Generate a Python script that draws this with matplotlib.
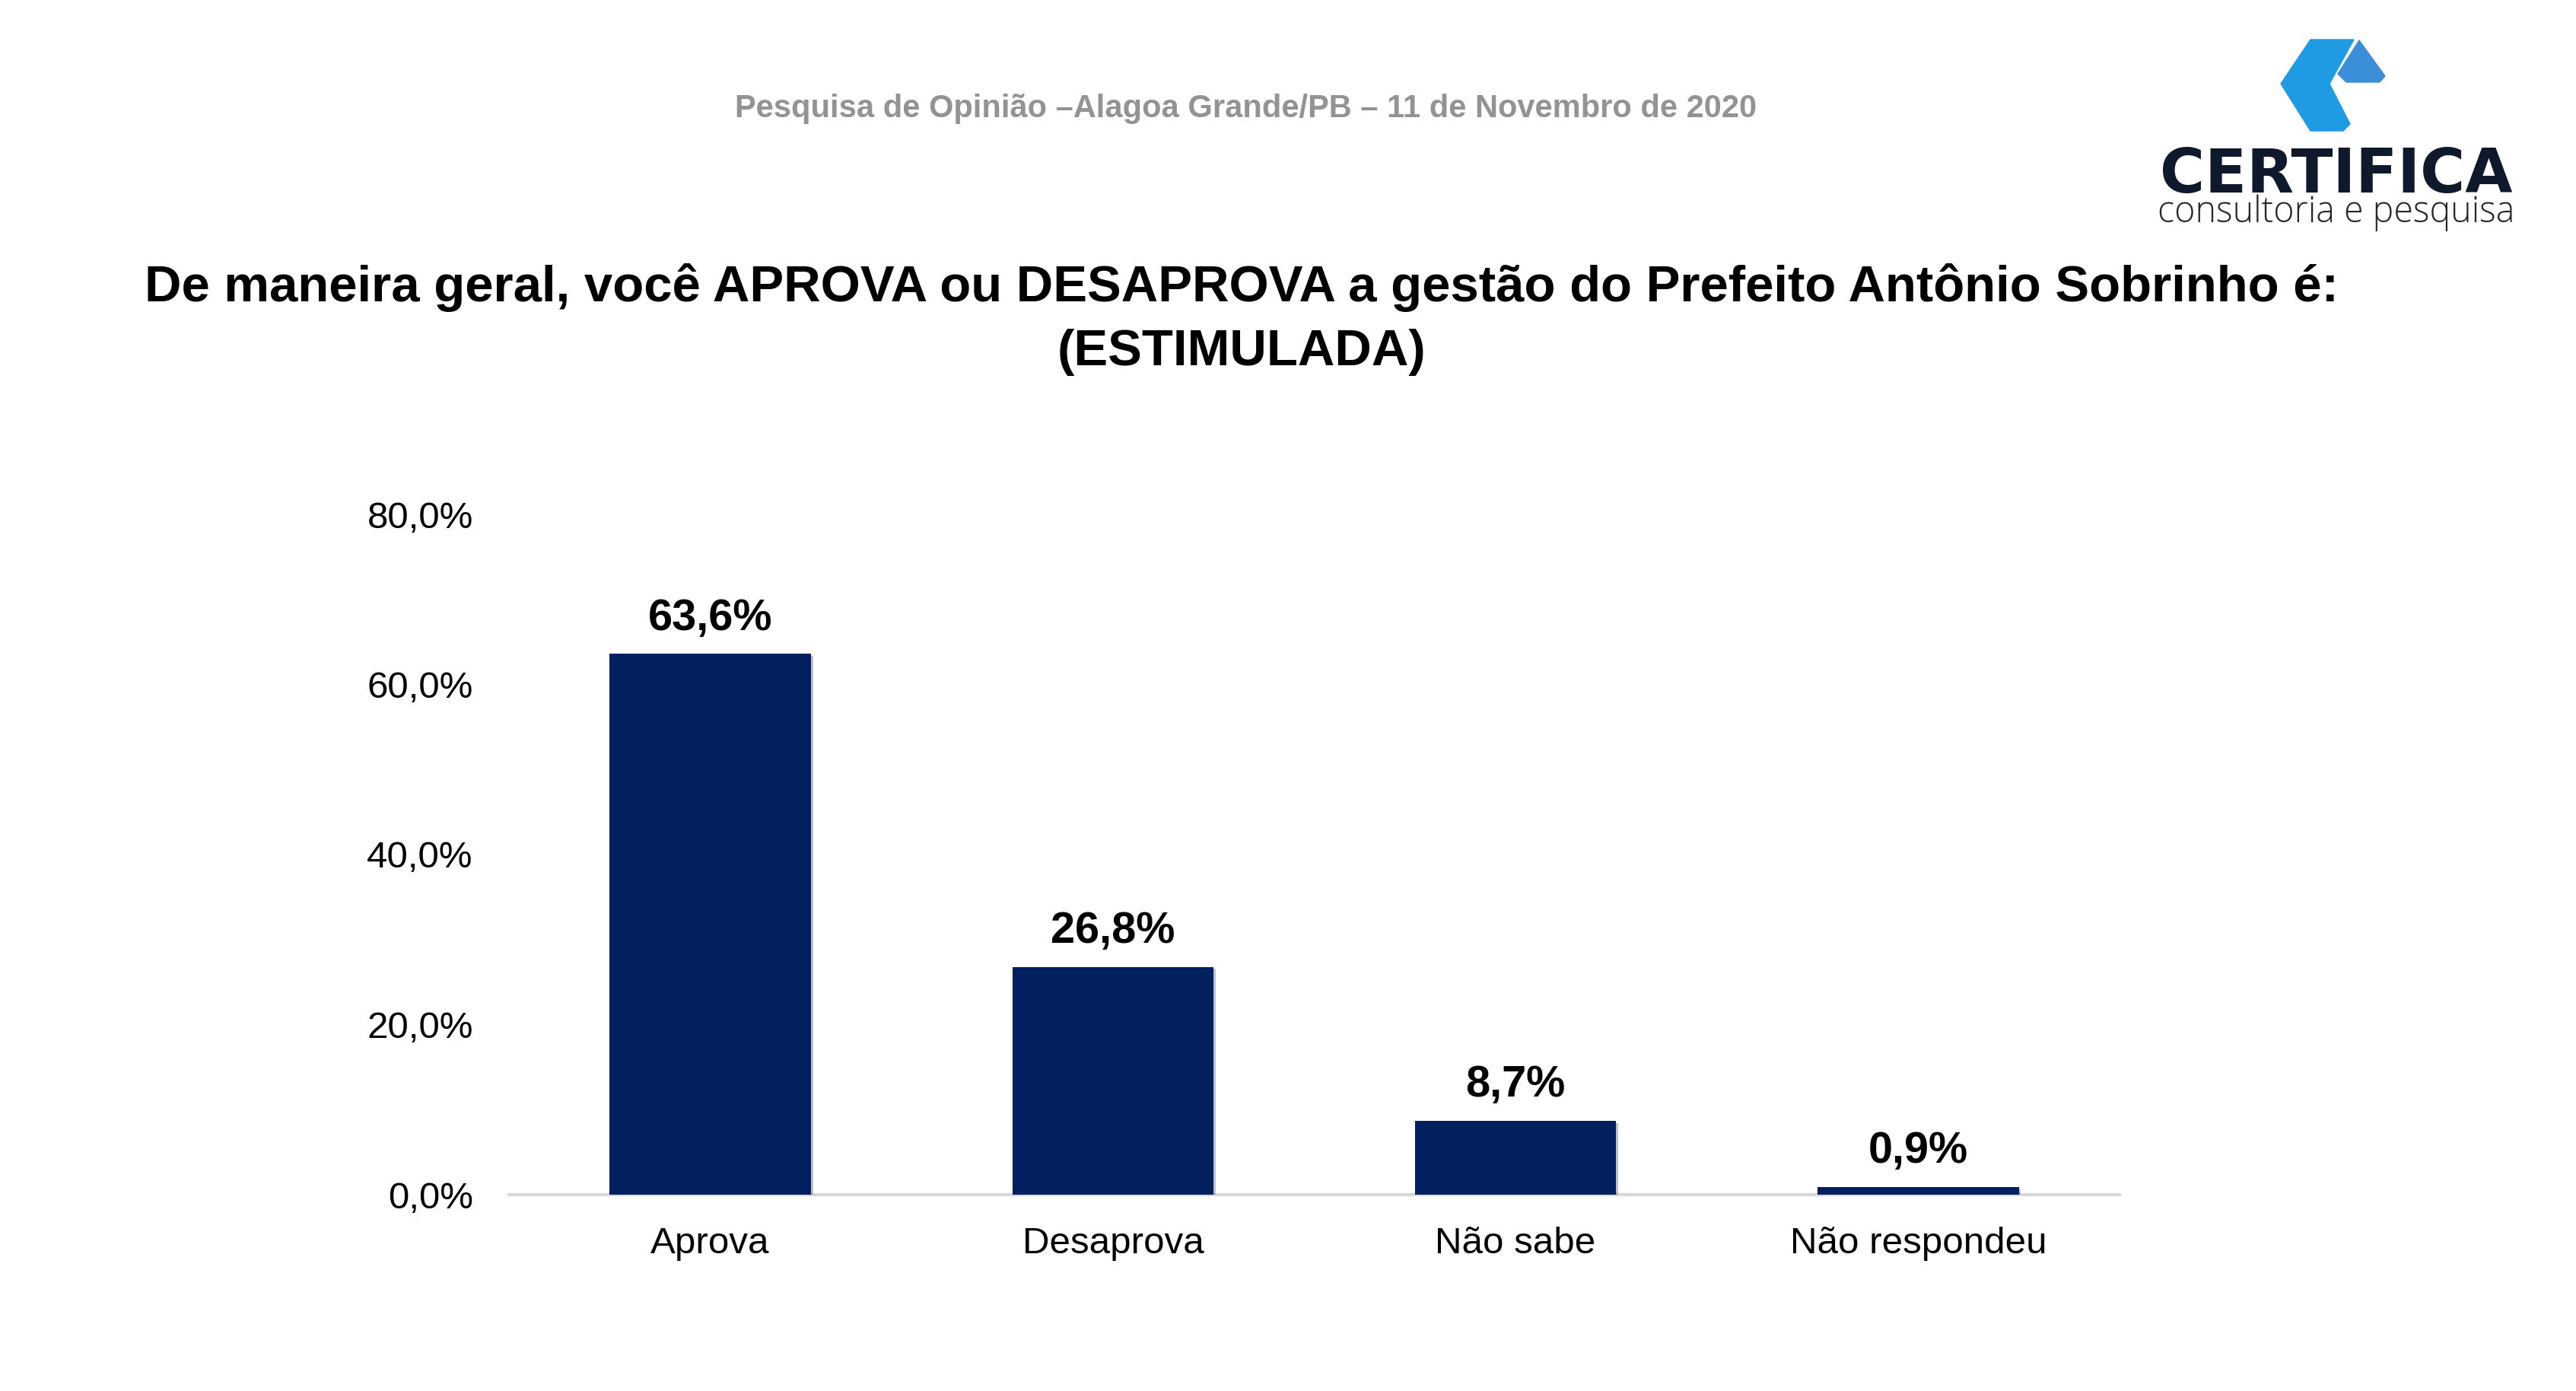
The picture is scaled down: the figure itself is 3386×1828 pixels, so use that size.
import matplotlib
matplotlib.use("Agg")
import matplotlib.pyplot as plt
import matplotlib.patheffects as pe
from matplotlib.patches import Polygon
from matplotlib.ticker import FuncFormatter

categorias = ["Aprova", "Desaprova", "Não sabe", "Não respondeu"]
valores = [63.6, 26.8, 8.7, 0.9]
yticks = [0, 20, 40, 60, 80]

cabecalho = "Pesquisa de Opinião –Alagoa Grande/PB – 11 de Novembro de 2020"
titulo = ("De maneira geral, você APROVA ou DESAPROVA a gestão do Prefeito Antônio Sobrinho é:\n"
          "(ESTIMULADA)")

W, H = 3386, 1828
plt.rcParams["font.family"] = ["Liberation Sans", "DejaVu Sans"]
fig = plt.figure(figsize=(W / 100, H / 100), dpi=100)


def fx(px):
    return px / W


def fy(py):
    return 1 - py / H


# header and title
fig.text(fx(1638), fy(143), cabecalho, ha="center", va="center",
         fontsize=30, fontweight="bold", color="#939393")
fig.text(fx(1632), fy(420), titulo, ha="center", va="center",
         fontsize=48.3, fontweight="bold", color="black", linespacing=1.45)

# chart
ax = fig.add_axes([fx(669), fy(1570), fx(2786) - fx(669), fy(676) - fy(1570)])
x = range(len(categorias))
sombra = [pe.SimplePatchShadow(offset=(2, -2), alpha=0.25), pe.Normal()]
bars = ax.bar(x, valores, width=0.5, color="#02205F", zorder=3)
for b in bars:
    b.set_path_effects(sombra)
ax.set_xlim(-0.5, len(categorias) - 0.5)
ax.set_ylim(0, 80)
ax.set_yticks(yticks)
ax.yaxis.set_major_formatter(FuncFormatter(lambda v, p: f"{v:.1f}%".replace(".", ",")))
ax.set_xticks(list(x))
ax.set_xticklabels(categorias)
ax.tick_params(axis="both", length=0, labelsize=35.5, colors="black")
ax.tick_params(axis="x", pad=30)
ax.tick_params(axis="y", pad=34)
for s in ["top", "right", "left"]:
    ax.spines[s].set_visible(False)
ax.spines["bottom"].set_color("#D9D9D9")
ax.spines["bottom"].set_linewidth(3)

for b, v in zip(bars, valores):
    ax.annotate(f"{v:.1f}%".replace(".", ","), (b.get_x() + b.get_width() / 2, v),
                xytext=(0, 14), textcoords="offset points", ha="center", va="bottom",
                fontsize=41.5, fontweight="bold")

# logo
icone1 = [(3037, 52), (3094, 52), (3062, 110), (3089, 163), (3080, 172),
          (3037, 172), (2998, 110)]
icone2 = [(3101, 53), (3135, 100), (3128, 108), (3084, 108), (3073, 97)]
fig.patches.append(Polygon([(fx(a), fy(b)) for a, b in icone1], closed=True,
                           transform=fig.transFigure, color="#1E9BE3", joinstyle="round"))
fig.patches.append(Polygon([(fx(a), fy(b)) for a, b in icone2], closed=True,
                           transform=fig.transFigure, color="#3A8FD8", joinstyle="round"))
fig.text(fx(3071), fy(253), "CERTIFICA", ha="center", va="baseline", fontsize=58,
         fontweight="bold", family=["DejaVu Sans"], color="#0E1A2B")
fig.text(fx(3071), fy(292), "consultoria e pesquisa", ha="center", va="baseline",
         fontsize=33.5, fontweight="light", family=["Open Sans", "DejaVu Sans"], color="#262626")

fig.savefig("out.png", dpi=100, facecolor="white")
